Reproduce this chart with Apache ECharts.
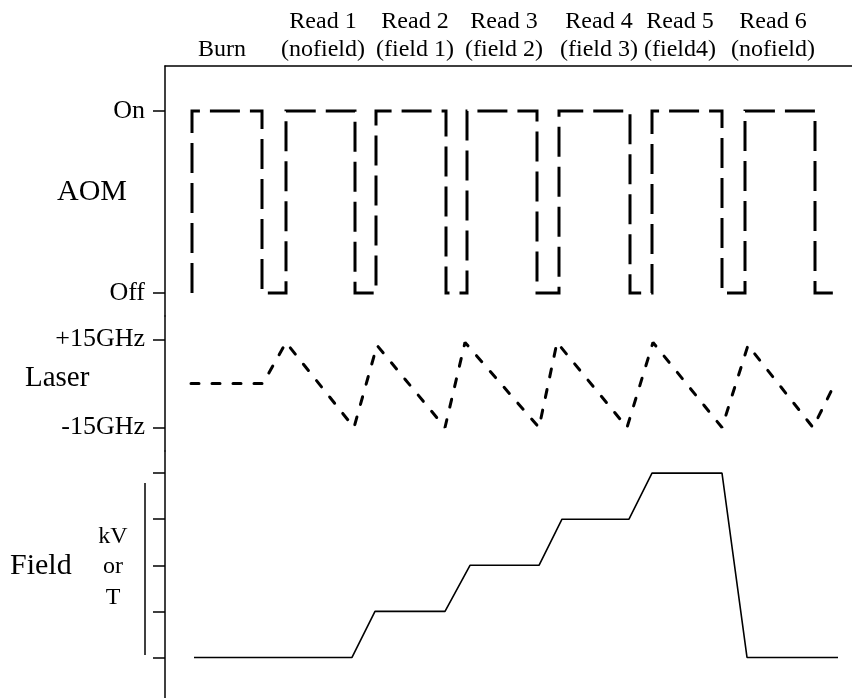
<!DOCTYPE html>
<html>
<head>
<meta charset="utf-8">
<script src="https://cdn.jsdelivr.net/npm/echarts@6/dist/echarts.min.js"></script>
<style>
  html, body { margin: 0; padding: 0; background: #fff; }
  #chart { width: 852px; height: 698px; }
</style>
</head>
<body>
<div id="chart"></div>
<script>
// Time runs in arbitrary units along a shared horizontal axis.
const timeMax = 687;

// Sequence phases and the time at the centre of each phase
const phaseTop = ['', 'Read 1', 'Read 2', 'Read 3', 'Read 4', 'Read 5', 'Read 6'];
const phaseBottom = ['Burn', '(nofield)', '(field 1)', '(field 2)', '(field 3)', '(field4)', '(nofield)'];
const phaseCentre = [57, 158, 250, 339, 434, 515, 608];

// AOM gate: vertices of the square wave (1 = On, 0 = Off)
const aomTime = [27, 27, 97, 97, 121, 121, 190, 190, 211, 211, 281, 281, 302, 302,
                 372, 372, 394, 394, 465, 465, 487, 487, 557, 557, 580, 580, 650, 650, 673];
const aomLevel = [0, 1, 1, 0, 0, 1, 1, 0, 0, 1, 1, 0, 0, 1,
                  1, 0, 0, 1, 1, 0, 0, 1, 1, 0, 0, 1, 1, 0, 0];

// Laser detuning sweep, GHz
const laserTime = [26, 98, 121, 189, 212, 280, 300, 374, 392, 462, 488, 557, 583, 648, 670];
const laserGHz  = [0, 0, 14, -15, 13, -15, 14, -15, 14, -15, 14, -15, 13, -15, 0];

// Applied field, in steps
const fieldTime  = [29, 187, 210, 280, 305, 374, 397, 464, 487, 557, 582, 673];
const fieldLevel = [0, 0, 1, 1, 2, 2, 3, 3, 4, 4, 0, 0];

const toPairs = (xs, ys) => xs.map((x, i) => [x, ys[i]]);

const serif = '"Liberation Serif", "DejaVu Serif", serif';
const ink = '#000';

const chart = echarts.init(document.getElementById('chart'), null, { renderer: 'canvas' });

const yBase = (grid, min, max, ticks, fmt) => ({
  type: 'value', gridIndex: grid, min: min, max: max,
  axisLine: { show: true, onZero: false, lineStyle: { color: ink, width: 1.5 } },
  axisTick: { show: ticks.length > 0, customValues: ticks, length: 12, inside: false,
              lineStyle: { color: ink, width: 1.5 } },
  axisLabel: { show: !!fmt, customValues: ticks, margin: 20, color: ink,
               fontFamily: serif, fontSize: 26, formatter: fmt || undefined },
  splitLine: { show: false }
});

chart.setOption({
  backgroundColor: '#fff',
  animation: false,
  grid: [
    { left: 165, right: 0, top: 66, height: 250 },
    { left: 165, right: 0, top: 316, height: 135 },
    { left: 165, right: 0, top: 451, height: 247 }
  ],
  xAxis: [
    { type: 'value', gridIndex: 0, position: 'top', min: 0, max: timeMax,
      axisLine: { show: true, onZero: false, lineStyle: { color: ink, width: 1.5 } },
      axisTick: { show: false }, splitLine: { show: false },
      axisLabel: {
        show: true, customValues: phaseCentre, margin: 2, color: ink,
        fontFamily: serif, fontSize: 24, lineHeight: 28, align: 'center',
        formatter: v => {
          const i = phaseCentre.indexOf(v);
          if (i < 0) return '';
          return phaseTop[i] ? phaseTop[i] + '\n' + phaseBottom[i] : phaseBottom[i];
        }
      } },
    { type: 'value', gridIndex: 1, min: 0, max: timeMax, show: false },
    { type: 'value', gridIndex: 2, min: 0, max: timeMax, show: false }
  ],
  yAxis: [
    yBase(0, -0.126, 1.247, [0, 1], v => (v === 1 ? 'On' : v === 0 ? 'Off' : '')),
    yBase(1, -23, 23, [-15, 15], v => (v === 15 ? '+15GHz' : v === -15 ? '-15GHz' : '')),
    yBase(2, -0.88, 4.48, [0, 1, 2, 3, 4], null)
  ],
  series: [
    { name: 'AOM', type: 'line', xAxisIndex: 0, yAxisIndex: 0,
      data: toPairs(aomTime, aomLevel), symbol: 'none',
      lineStyle: { color: ink, width: 3, type: [30, 10], cap: 'butt', join: 'miter' } },
    { name: 'Laser', type: 'line', xAxisIndex: 1, yAxisIndex: 1,
      data: toPairs(laserTime, laserGHz), symbol: 'none',
      lineStyle: { color: ink, width: 3, type: [8, 13], cap: 'round' } },
    { name: 'Field', type: 'line', xAxisIndex: 2, yAxisIndex: 2,
      data: toPairs(fieldTime, fieldLevel), symbol: 'none',
      lineStyle: { color: ink, width: 1.6 } }
  ],
  graphic: [
    { type: 'text', left: 57, top: 177,
      style: { text: 'AOM', font: '30px ' + serif, fill: ink } },
    { type: 'text', left: 25, top: 364,
      style: { text: 'Laser', font: '29px ' + serif, fill: ink } },
    { type: 'text', left: 10, top: 551,
      style: { text: 'Field', font: '30px ' + serif, fill: ink } },
    { type: 'text', x: 113, y: 537,
      style: { text: 'kV', font: '24px ' + serif, fill: ink, align: 'center', verticalAlign: 'middle' } },
    { type: 'text', x: 113, y: 567,
      style: { text: 'or', font: '24px ' + serif, fill: ink, align: 'center', verticalAlign: 'middle' } },
    { type: 'text', x: 113, y: 598,
      style: { text: 'T', font: '24px ' + serif, fill: ink, align: 'center', verticalAlign: 'middle' } },
    { type: 'line', shape: { x1: 145, y1: 483, x2: 145, y2: 655 },
      style: { stroke: ink, lineWidth: 1.5 } }
  ]
});
</script>
</body>
</html>
